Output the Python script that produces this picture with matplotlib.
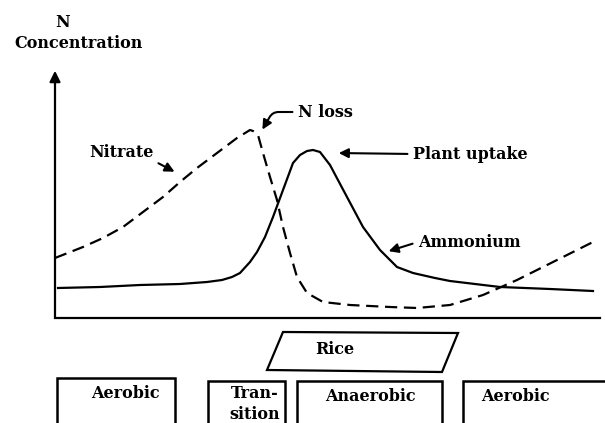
import matplotlib
matplotlib.use('Agg')
import matplotlib.pyplot as plt
from matplotlib.patches import Polygon, Rectangle

# curve readings (x = time along the season, y = N concentration), arbitrary units
nitrate_x = [0, 28, 48, 68, 88, 108, 125, 142, 162, 182, 195, 198, 203, 208, 215,
             222, 228, 235, 242, 252, 268, 295, 335, 362, 395, 428, 462, 502, 542]
nitrate_y = [60, 71, 80, 91, 106, 121, 136, 150, 165, 180, 188, 187, 183, 165, 141,
             118, 91, 65, 41, 25, 16, 13, 11, 10, 13, 23, 38, 58, 78]

ammonium_x = [3, 45, 85, 125, 152, 167, 177, 185, 195, 202, 210, 218, 228, 238, 245,
              252, 258, 265, 275, 292, 308, 325, 342, 358, 380, 395, 420, 445, 495, 538]
ammonium_y = [30, 31, 33, 34, 36, 38, 41, 45, 56, 66, 81, 101, 128, 155, 163,
              167, 168, 166, 153, 121, 91, 68, 51, 45, 40, 37, 34, 31, 29, 27]

phases = ['Aerobic', 'Tran-\nsition', 'Anaerobic', 'Aerobic']
phase_start = [2, 153, 242, 408]
phase_end = [120, 230, 387, 560]

font = dict(family='DejaVu Serif', fontweight='bold', fontsize=11.5, color='black')

fig = plt.figure(figsize=(6.05, 4.23), dpi=100)
ax = fig.add_axes([0, 0, 1, 1])
ax.set_xlim(-55, 550)
ax.set_ylim(-105, 318)
ax.axis('off')

# axes of the diagram
ax.plot([0, 545], [0, 0], color='black', lw=1.6)
ax.annotate('', xy=(0, 250), xytext=(0, -2),
            arrowprops=dict(arrowstyle='-|>', color='black', lw=1.6, mutation_scale=16))
ax.text(8, 296, 'N', ha='center', va='center', **font)
ax.text(24, 275, 'Concentration', ha='center', va='center', **font)

ax.plot(nitrate_x, nitrate_y, color='black', lw=1.6, dashes=(5.5, 3),
        dash_joinstyle='round', dash_capstyle='butt')
ax.plot(ammonium_x, ammonium_y, color='black', lw=1.6, solid_joinstyle='round')

arrow = dict(arrowstyle='-|>', color='black', lw=1.5, mutation_scale=14)
ax.annotate('Nitrate', xy=(122, 145), xytext=(66, 166), ha='center', va='center',
            arrowprops=dict(arrow, relpos=(1, 0)), **font)
ax.annotate('N loss', xy=(206, 186), xytext=(243, 206), ha='left', va='center',
            arrowprops=dict(arrow, relpos=(0, 0.5),
                            connectionstyle='angle,angleA=0,angleB=60,rad=6'), **font)
ax.annotate('Plant uptake', xy=(281, 165), xytext=(358, 164), ha='left', va='center',
            arrowprops=dict(arrow, relpos=(0, 0.5)), **font)
ax.annotate('Ammonium', xy=(331, 66), xytext=(363, 76), ha='left', va='center',
            arrowprops=dict(arrow, relpos=(0, 0.5)), **font)

# rice and soil phases
ax.add_patch(Polygon([(228, -14), (403, -15), (387, -54), (212, -52)], closed=True,
                     fill=False, lw=1.6, ec='black'))
ax.text(280, -31, 'Rice', ha='center', va='center', **font)

text_x = [70, 200, 315, 460]
for name, x0, x1, tx in zip(phases, phase_start, phase_end, text_x):
    top = -60 if x0 < 150 else -63
    ax.add_patch(Rectangle((x0, top - 60), x1 - x0, 60, fill=False, lw=1.8, ec='black'))
    if '\n' in name:
        a, b = name.split('\n')
        ax.text(tx, top - 12, a, ha='center', va='center', **font)
        ax.text(tx, top - 33, b, ha='center', va='center', **font)
    else:
        ax.text(tx, top - 15, name, ha='center', va='center', **font)

fig.savefig('out.png', dpi=100)
